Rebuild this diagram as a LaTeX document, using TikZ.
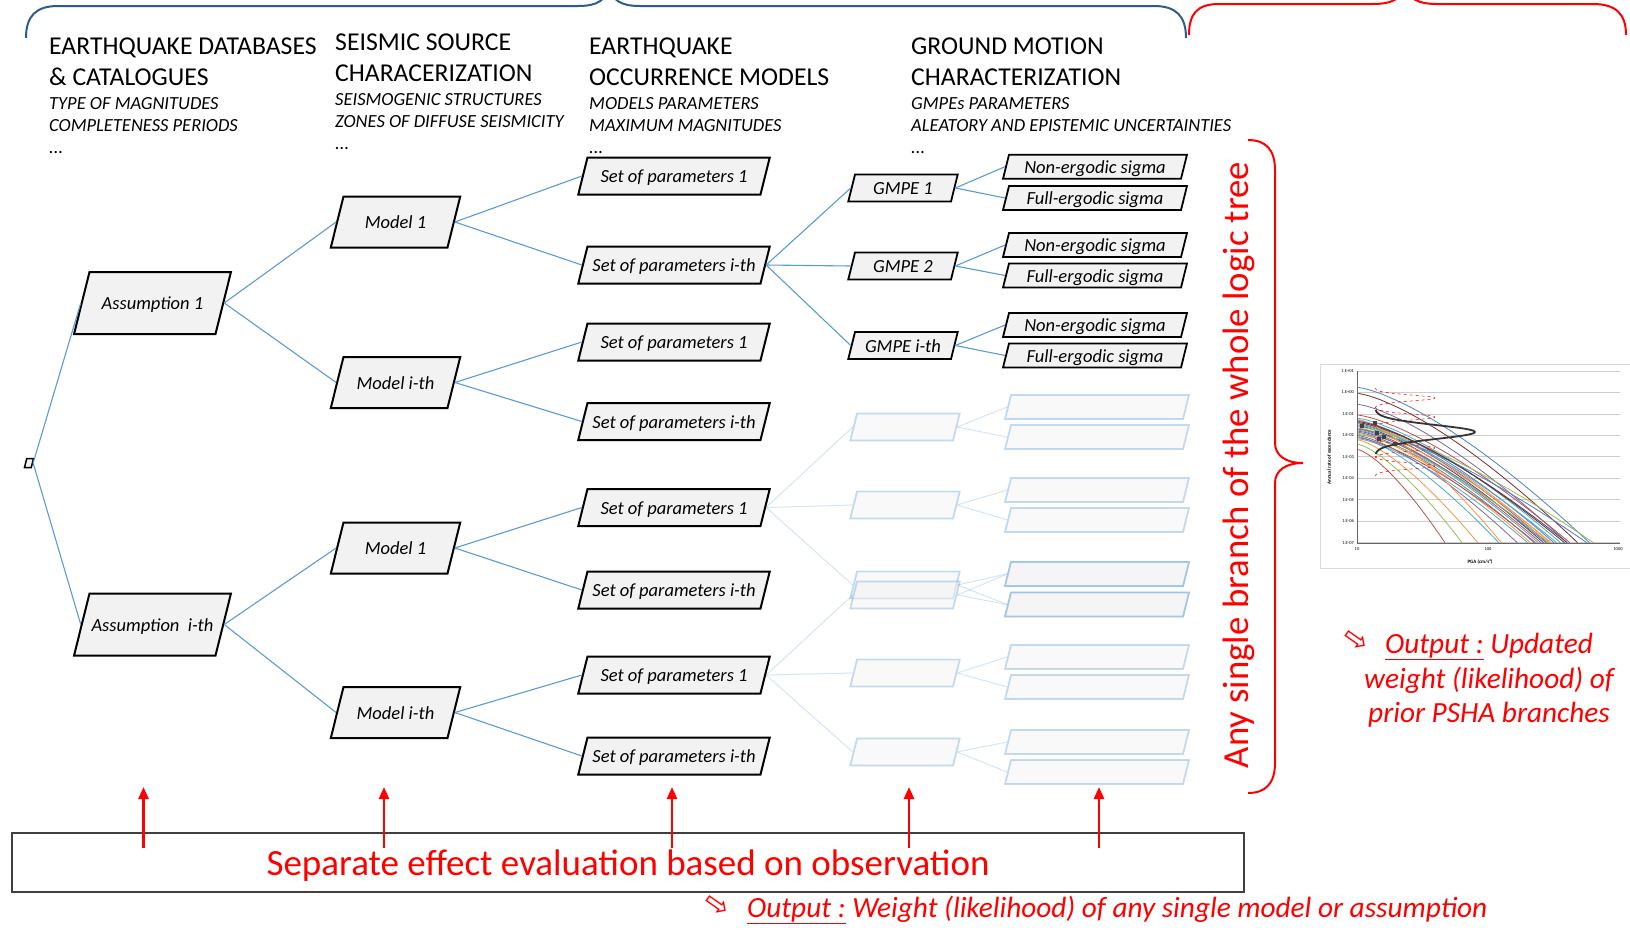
\documentclass[tikz,border=0pt]{standalone}
\usepackage{fontspec}
\setmainfont{Carlito}
\newfontfamily\arrowfont{DejaVu Sans}
\usetikzlibrary{shapes.geometric, arrows.meta, positioning}

\definecolor{boxgray}{HTML}{F2F2F2}
\definecolor{treeblue}{HTML}{5B9BD5}
\definecolor{braceblue}{HTML}{2E5C8A}
\definecolor{xa}{HTML}{4F81BD}
\definecolor{xb}{HTML}{C0504D}
\definecolor{xc}{HTML}{9BBB59}
\definecolor{xd}{HTML}{8064A2}
\definecolor{xe}{HTML}{4BACC6}
\definecolor{xf}{HTML}{F79646}
\definecolor{xg}{HTML}{2C4D75}
\definecolor{xh}{HTML}{772C2A}

\begin{document}
\begin{tikzpicture}[x=1pt, y=-1pt,
  branch/.style={trapezium, trapezium left angle=76, trapezium right angle=104,
    draw=black, line width=2pt, fill=boxgray, align=flush center, inner xsep=0pt,
    text height=17.5pt, text depth=4pt, font=\itshape\fontsize{18.5}{20}\selectfont},
  assum/.style={branch, text width=126pt, inner ysep=20.25pt},
  model/.style={branch, text width=104pt, inner ysep=14.75pt},
  param/.style={branch, text width=173pt, inner ysep=7.75pt},
  gmpe/.style={branch, text width=96pt, inner ysep=2.75pt, line width=1.8pt},
  sigma/.style={branch, text width=172pt, inner ysep=1.25pt, line width=1.8pt},
  faded/.style={draw=treeblue, draw opacity=0.35, fill opacity=0.45},
  link/.style={draw=treeblue, line width=1.1pt},
  fadelink/.style={draw=treeblue, draw opacity=0.25, line width=1pt},
  head/.style={anchor=north west, inner sep=0pt, align=left, font=\fontsize{25.7}{31}\selectfont},
  sub/.style={anchor=north west, inner sep=0pt, align=left, font=\itshape\fontsize{18.5}{22}\selectfont},
  redtext/.style={text=red, inner sep=0pt},
  icon/.style={text=red, inner sep=0pt, rotate=-35, font=\arrowfont\fontsize{30}{30}\selectfont},
  up/.style={draw=red, line width=2.6pt, -{Triangle[length=12pt, width=10pt]}},
  tick/.style={inner sep=1pt, font=\fontsize{4.5}{5}\selectfont}]

  \path[use as bounding box, fill=white] (0,0) rectangle (1630,929);

  \node[head] (h1) at (49,38) {EARTHQUAKE DATABASES\\\& CATALOGUES};
  \node[sub] (d1) at (49,97) {TYPE OF MAGNITUDES\\COMPLETENESS PERIODS\\...};
  \node[head] (h2) at (335,34) {SEISMIC SOURCE\\CHARACERIZATION};
  \node[sub] (d2) at (335,93) {SEISMOGENIC STRUCTURES\\ZONES OF DIFFUSE SEISMICITY\\...};
  \node[head] (h3) at (589,38) {EARTHQUAKE\\OCCURRENCE MODELS};
  \node[sub] (d3) at (589,97) {MODELS PARAMETERS\\MAXIMUM MAGNITUDES\\...};
  \node[head] (h4) at (911,38) {GROUND MOTION\\CHARACTERIZATION};
  \node[sub] (d4) at (911,97) {GMPEs PARAMETERS\\ALEATORY AND EPISTEMIC UNCERTAINTIES\\...};

  \node[branch, text width=4.5pt, text height=0pt, text depth=0pt, inner ysep=4.5pt, line width=1.5pt] (root) at (29,463) {};
  \node[assum] (a1) at (152.5,303) {Assumption 1};
  \node[assum] (ai) at (152.5,624.5) {Assumption~ i-th};

  \node[model] (m1a) at (395.5,222) {Model 1};
  \node[model] (mia) at (395.5,382.5) {Model i-th};
  \node[model] (m1b) at (395.5,548) {Model 1};
  \node[model] (mib) at (395.5,712.5) {Model i-th};

  \foreach \y/\t [count=\i] in {176/1, 265/i-th, 342/1, 421.5/i-th, 507.5/1, 590/i-th, 675/1, 756/i-th}
    \node[param] (p\i) at (674,\y) {Set of parameters \t};

  \node[gmpe] (g1) at (903,188) {GMPE 1};
  \node[gmpe] (g2) at (903,266) {GMPE 2};
  \node[gmpe] (g3) at (903,345.5) {GMPE i-th};
  \foreach \y/\t [count=\i] in {166.7/Non, 198/Full, 245/Non, 275.5/Full, 325/Non, 355.5/Full}
    \node[sigma] (s\i) at (1095,\y) {\t-ergodic sigma};

  \path[link] (root.east) edge (a1.west) edge (ai.west)
    (a1.east) edge (m1a.west) edge (mia.west)
    (ai.east) edge (m1b.west) edge (mib.west)
    (m1a.east) edge (p1.west) edge (p2.west)
    (mia.east) edge (p3.west) edge (p4.west)
    (m1b.east) edge (p5.west) edge (p6.west)
    (mib.east) edge (p7.west) edge (p8.west)
    (p2.east) edge (g1.west) edge (g2.west) edge (g3.west)
    (g1.east) edge (s1.west) edge (s2.west)
    (g2.east) edge (s3.west) edge (s4.west)
    (g3.east) edge (s5.west) edge (s6.west);

  \foreach \y/\u/\d [count=\i] in {427/407/437, 505/490/520, 585/574/604.5, 595/574/604.5, 673/657/687, 752/742/772} {
    \node[gmpe, faded] (f\i) at (905,\y) {};
    \node[sigma, faded] (fu\i) at (1097,\u) {};
    \node[sigma, faded] (fd\i) at (1097,\d) {};
    \path[fadelink] (f\i.east) edge (fu\i.west) edge (fd\i.west);
  }
  \path[fadelink] (p5.east) edge (f1.west) edge (f2.west) edge (f3.west)
    (p7.east) edge (f4.west) edge (f5.west) edge (f6.west);

  \begin{scope}[line width=2pt]
    \clip (0,0) rectangle (1630,929);
    \draw[braceblue] (26,38) .. controls (26,16) and (36,6) .. (58,6) -- (578,6)
      .. controls (598,6) and (606,0) .. (609,-14) .. controls (612,0) and (620,6) .. (640,6)
      -- (1154,6) .. controls (1176,6) and (1186,16) .. (1186,38);
    \draw[red] (1189,35) .. controls (1189,14) and (1197,4) .. (1219,4) -- (1373,4)
      .. controls (1393,4) and (1402,-2) .. (1405,-14) .. controls (1408,-2) and (1417,4) .. (1437,4)
      -- (1593,4) .. controls (1616,4) and (1626,14) .. (1626,35);
    \draw[red] (1248,140) .. controls (1266,140) and (1275,150) .. (1275,170) -- (1275,443)
      .. controls (1275,455) and (1285,463) .. (1303,463) .. controls (1285,463) and (1275,471) .. (1275,483)
      -- (1275,763) .. controls (1275,783) and (1266,793) .. (1248,793);
  \end{scope}
  \node[redtext, rotate=90, anchor=base, font=\fontsize{36.75}{40}\selectfont] (anyb) at (1248,465) {Any single branch of the whole logic tree};

  \draw[black!15, line width=1pt] (1630,364) -- (1320,364) -- (1320,568) -- (1630,568);
  \foreach \L [count=\k from 0] in {1.E+01,1.E+00,1.E-01,1.E-02,1.E-03,1.E-04,1.E-05,1.E-06,1.E-07} {
    \draw[black!20, line width=0.7pt] (1357,{371+21.46*\k}) -- (1620,{371+21.46*\k});
    \node[tick, anchor=east] (yt\k) at (1355,{371+21.46*\k}) {\L};
  }
  \draw[black!60, line width=0.8pt] (1357,371) -- (1357,543) -- (1620,543);
  \node[tick] (xt1) at (1357,549) {10};
  \node[tick] (xt2) at (1488,549) {100};
  \node[tick] (xt3) at (1618,549) {1000};
  \node[tick, font=\bfseries\fontsize{5}{6}\selectfont] (xlab) at (1480,562) {PGA (cm/s²)};
  \node[tick, rotate=90, font=\bfseries\fontsize{5}{6}\selectfont] (ylab) at (1329,457) {Annual rate of exceedance};
  \begin{scope}
    \clip (1357,360) rectangle (1620,543);
    \foreach \yo/\ue/\cc in {0.24/1.77/xa, -0.04/1.68/xh, -0.55/1.60/xd, -1.05/1.62/xb, -1.2/1.55/xe,
        -1.3/1.50/xa, -1.4/1.47/xf, -1.45/1.45/xd, -1.5/1.52/xe, -1.55/1.42/xg, -1.6/1.80/xc,
        -1.65/1.48/xf, -1.7/1.40/xb, -1.75/1.38/xe, -1.8/1.44/xd, -1.85/1.35/xa, -1.9/1.32/xf,
        -1.95/1.46/xc, -2.0/1.22/xd, -2.05/1.08/xe, -2.1/1.36/xb, -2.2/0.92/xf, -2.4/0.80/xc,
        -2.65/0.67/xb, -1.4/1.60/xg, -1.7/1.75/xa, -2.15/1.30/xe, -1.25/1.10/xf, -1.35/1.58/xh}
      \draw[\cc, line width=0.8pt] plot[domain=0.01:\ue, samples=30, smooth]
        ({1357+131.3*\x},{371+(1-(\yo)+(\yo+7)*(\x/\ue)^1.4)*21.46});
  \end{scope}
  \foreach \a/\b/\c in {388/408/398, 407/427/417, 438/458/448, 456/476/466}
    \draw[red, dashed, line width=0.5pt] plot[domain=\a:\b, samples=30, smooth] ({1375+60*exp(-((\x-\c)^2)/18)},\x);
  \draw[black!80, line width=1.8pt] plot[domain=410:454, samples=50, smooth] ({1375+100*exp(-((\x-432)^2)/98)},\x);
  \foreach \p in {(1362,426),(1375,423),(1377,433),(1379,439),(1384,437),(1395,444)}
    \fill[black!75] \p ++(-2,-2) rectangle ++(4,4);

  \node[icon] (ico1) at (1356,641) {⇨};
  \node[redtext, anchor=north, align=center, font=\itshape\fontsize{29.3}{34.5}\selectfont] (upd) at (1489,633)
    {\underline{Output :} Updated\\weight (likelihood) of\\prior PSHA branches};

  \node[draw=black!75, line width=2pt, minimum width=1232, minimum height=59, inner sep=0pt] (obs) at (628,862.5) {};
  \node[redtext, anchor=base, font=\fontsize{37}{40}\selectfont] (obstext) at (628,875) {Separate effect evaluation based on observation};
  \foreach \x [count=\i] in {143.5,384,672,909,1099} {
    \coordinate (lo\i) at (\x,848);
    \coordinate (hi\i) at (\x,787);
    \draw[up] (lo\i) -- (hi\i);
  }
  \node[icon] (ico2) at (717,906) {⇨};
  \node[redtext, anchor=base west, font=\itshape\fontsize{29.3}{34}\selectfont] (wgt) at (747,917)
    {\underline{Output :} Weight (likelihood) of any single model or assumption};
\end{tikzpicture}
\end{document}
